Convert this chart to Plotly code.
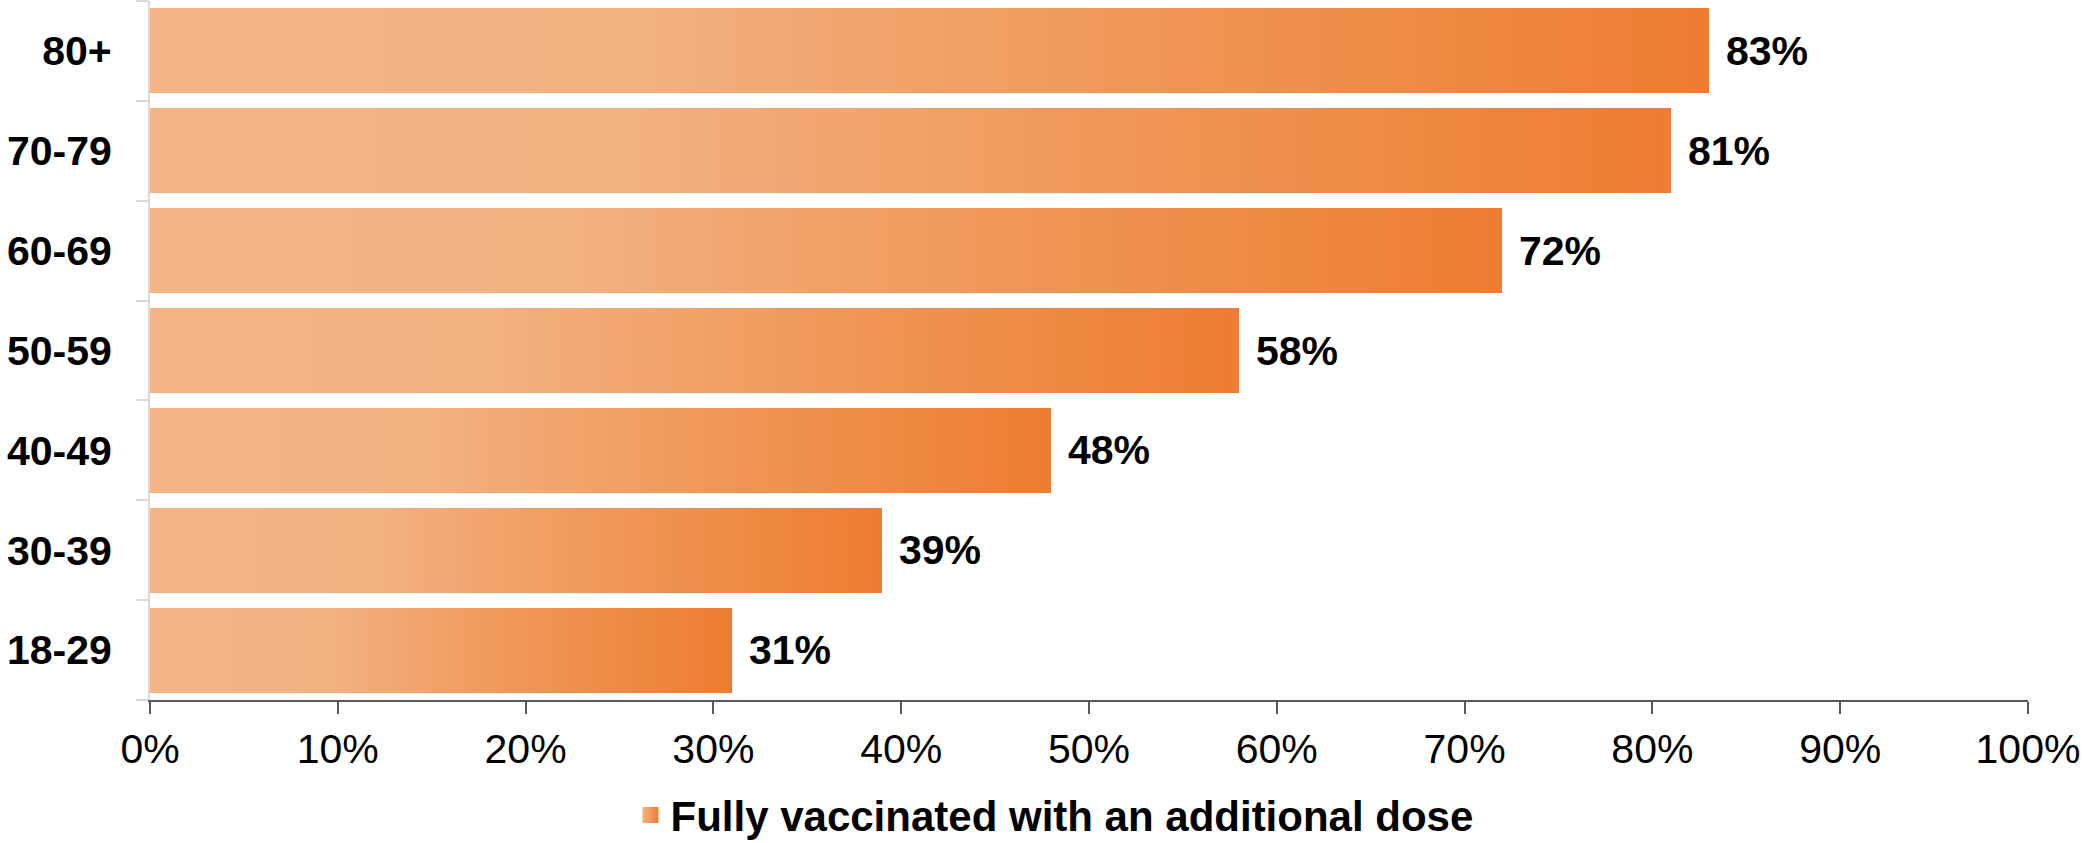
import plotly.graph_objects as go

categories = ["18-29", "30-39", "40-49", "50-59", "60-69", "70-79", "80+"]
values = [31, 39, 48, 58, 72, 81, 83]
value_labels = ["31%", "39%", "48%", "58%", "72%", "81%", "83%"]
x_ticks = [0, 10, 20, 30, 40, 50, 60, 70, 80, 90, 100]
x_tick_labels = ["0%", "10%", "20%", "30%", "40%", "50%", "60%", "70%", "80%", "90%", "100%"]
legend_name = "Fully vaccinated with an additional dose"

# gradient stops along each bar (fraction of bar length -> rgb)
grad_stops = [(0.0, (244, 180, 133)), (0.3, (243, 177, 130)), (0.62, (240, 152, 88)), (1.0, (237, 125, 49))]
N_SEG = 80


def grad_color(t):
    for (t0, c0), (t1, c1) in zip(grad_stops[:-1], grad_stops[1:]):
        if t0 <= t <= t1:
            f = (t - t0) / (t1 - t0) if t1 > t0 else 0
            c = [round(a + (b - a) * f) for a, b in zip(c0, c1)]
            return f"rgb({c[0]},{c[1]},{c[2]})"
    c = grad_stops[-1][1]
    return f"rgb({c[0]},{c[1]},{c[2]})"


FONT = "Liberation Sans, Arial, sans-serif"

fig = go.Figure()
for k in range(N_SEG):
    t = (k + 0.5) / N_SEG
    fig.add_trace(go.Bar(
        x=[v / N_SEG for v in values],
        y=categories,
        orientation="h",
        marker=dict(color=grad_color(t), line=dict(width=0)),
        showlegend=False,
        hoverinfo="skip",
    ))

# legend entry
fig.add_trace(go.Scatter(
    x=[None], y=[None], mode="markers", name=legend_name,
    marker=dict(symbol="square", size=22, color="#F4B484",
                gradient=dict(type="horizontal", color="#ED7D31"), line=dict(width=0)),
    showlegend=True,
))

for c, v, lab in zip(categories, values, value_labels):
    fig.add_annotation(x=v, y=c, text=f"<b>{lab}</b>", showarrow=False,
                       xanchor="left", yanchor="middle", xshift=15,
                       font=dict(family=FONT, size=41, color="black"))

fig.update_layout(
    width=2084, height=843,
    barmode="stack", bargap=0.15,
    plot_bgcolor="white", paper_bgcolor="white",
    margin=dict(l=150, r=56, t=1, b=143),
    font=dict(family=FONT, color="black"),
    showlegend=True,
    legend=dict(orientation="h", xref="container", yref="container",
                x=0.506, xanchor="center", y=0.033, yanchor="middle",
                font=dict(family=FONT, size=42, color="black", weight="bold"),
                itemsizing="trace", bgcolor="rgba(0,0,0,0)"),
    xaxis=dict(range=[0, 100], tickvals=x_ticks, ticktext=x_tick_labels,
               showgrid=False, zeroline=False, showline=True, linecolor="#595959", linewidth=2,
               ticks="outside", ticklen=12, tickwidth=1.5, tickcolor="#595959",
               tickfont=dict(family=FONT, size=41, color="black"), fixedrange=True),
    yaxis=dict(type="category", categoryorder="array", categoryarray=categories,
               range=[-0.5, 6.5], showgrid=False, zeroline=False,
               showline=True, linecolor="#d9d9d9", linewidth=2,
               ticks="outside", ticklen=12, tickwidth=2, tickcolor="#d9d9d9",
               tickson="boundaries", ticklabelstandoff=28,
               tickfont=dict(family=FONT, size=41, color="black", weight="bold")),
)

fig.write_html(
    "out.html",
    config={"displayModeBar": False},
    post_script="document.body.style.margin='0';document.body.style.padding='0';document.body.style.overflow='hidden';",
)
